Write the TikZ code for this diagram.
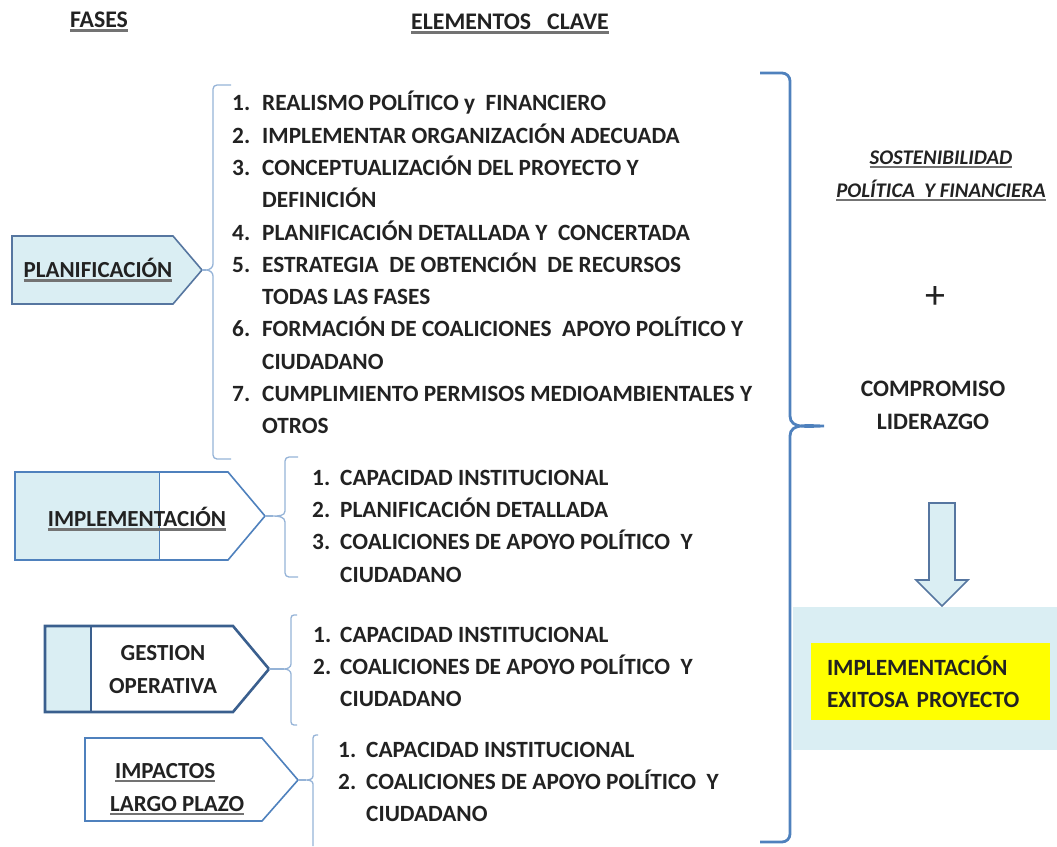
\documentclass[tikz,border=0pt]{standalone}
\usepackage{fontspec}
\setmainfont{Carlito}

\definecolor{paleblue}{HTML}{DAEEF3}
\definecolor{brkblue}{HTML}{95B3D7}
\definecolor{braceblue}{HTML}{4F81BD}
\definecolor{slateblue}{HTML}{5676A0}
\definecolor{darkblue}{HTML}{3A5F8E}
\definecolor{inkgray}{HTML}{222222}
\definecolor{hiyellow}{HTML}{FFFF00}

\newcommand{\ulbar}[1]{\setbox0=\hbox{#1}\rlap{\textcolor{black!55}{\rule[-4pt]{\wd0}{2.4pt}}}\box0}

\begin{document}
\begin{tikzpicture}[x=1pt, y=-1pt,
  phase/.style={line width=1.6pt, line join=miter},
  phaselabel/.style={inner sep=0pt, text=inkgray, align=center,
                     font=\fontsize{23}{33}\selectfont\bfseries},
  keylist/.style={anchor=north west, inner sep=0pt, text=inkgray,
                  font=\fontsize{23.3}{32.3}\selectfont\bfseries},
  brk/.style={brkblue, line width=1.3pt},
  bigbrace/.style={braceblue, line width=2.8pt},
  heading/.style={text=inkgray, font=\fontsize{23.8}{26}\selectfont\bfseries},
  sidetext/.style={text=inkgray, align=center, font=\fontsize{23.6}{33}\selectfont\bfseries},
  resultbox/.style={fill=hiyellow, text=inkgray, align=left, text width=207pt,
                    inner xsep=16pt, minimum height=77pt,
                    font=\fontsize{23.3}{32}\selectfont\bfseries},
  blockarrow/.style={draw=slateblue, fill=paleblue, line width=1.6pt, line join=miter},
]
  \useasboundingbox (0,0) rectangle (1057,846);

  % Headings
  \node[heading] (fases) at (99,22) {\ulbar{FASES}};
  \node[heading] (claves) at (510,24) {\ulbar{ELEMENTOS~~~CLAVE}};

  % Phases
  \draw[phase, draw=slateblue, fill=paleblue] (12,236) -- (173,236) -- (202,270) coordinate (planTip)
    -- (173,304) -- (12,304) -- cycle;
  \node[phaselabel] (plan) at (98,270) {\ulbar{PLANIFICACIÓN}};

  \fill[white] (15,472) -- (228,472) -- (265,516) -- (228,560) -- (15,560) -- cycle;
  \fill[paleblue] (15,472) rectangle (159,560);
  \draw[braceblue, line width=0.8pt] (159,472) -- (159,560);
  \draw[phase, draw=braceblue] (15,472) -- (228,472) -- (265,516) coordinate (implTip)
    -- (228,560) -- (15,560) -- cycle;
  \node[phaselabel] (impl) at (137,519) {\ulbar{IMPLEMENTACIÓN}};

  \fill[white] (45,626) -- (233,626) -- (269,669) -- (233,712) -- (45,712) -- cycle;
  \fill[paleblue] (45,626) rectangle (91,712);
  \draw[darkblue, line width=2.4pt] (91,626) -- (91,712);
  \draw[phase, draw=darkblue, line width=2.6pt] (45,626) -- (233,626) -- (269,669) coordinate (gestTip)
    -- (233,712) -- (45,712) -- cycle;
  \node[phaselabel] (gest) at (163,670) {GESTION\\OPERATIVA};

  \draw[phase, draw=braceblue, fill=white] (85,738) -- (262,738) -- (298,780) coordinate (impaTip)
    -- (262,821) -- (85,821) -- cycle;
  \node[phaselabel, align=left, anchor=west] (impa) at (110,789)
    {\hspace{5pt}\ulbar{IMPACTOS}\\\ulbar{LARGO PLAZO}};

  % Brackets
  \draw[brk] (231,85) -- (217,85) to[out=180,in=90] (213,89) -- (213,264)
    to[out=270,in=0] (206,270) coordinate (tipA) to[out=0,in=90] (213,276) -- (213,455)
    to[out=270,in=180] (217,459) -- (231,459);
  \draw[brk] (298,457) -- (289,457) to[out=180,in=90] (285,461) -- (285,511)
    to[out=270,in=0] (273,516) coordinate (tipB) to[out=0,in=90] (285,522) -- (285,573)
    to[out=270,in=180] (289,577) -- (298,577);
  \draw[brk] (297,615) -- (294,615) to[out=180,in=90] (291,618) -- (291,664)
    to[out=270,in=0] (284,669) coordinate (tipC) to[out=0,in=90] (291,674) -- (291,722)
    to[out=270,in=180] (294,725) -- (297,725);
  \draw[brk] (318,735) -- (316,735) to[out=180,in=90] (313,738) -- (313,776)
    to[out=270,in=0] (306,780) coordinate (tipD) to[out=0,in=90] (313,784) -- (313,846);
  \draw[brk] (planTip) -- (tipA);
  \draw[brk] (implTip) -- (tipB);
  \draw[brk] (gestTip) -- (tipC);
  \draw[brk] (impaTip) -- (tipD);

  % Key elements
  \node[keylist] (lst1) at (232,88) {\begin{tabular}{@{}p{30pt}@{}l@{}}
    1. & REALISMO POLÍTICO y~~FINANCIERO\\
    2. & IMPLEMENTAR ORGANIZACIÓN ADECUADA\\
    3. & CONCEPTUALIZACIÓN DEL PROYECTO Y\\
       & DEFINICIÓN\\
    4. & PLANIFICACIÓN DETALLADA Y~~CONCERTADA\\
    5. & ESTRATEGIA~~DE OBTENCIÓN~~DE RECURSOS\\
       & TODAS LAS FASES\\
    6. & FORMACIÓN DE COALICIONES~~APOYO POLÍTICO Y\\
       & CIUDADANO\\
    7. & CUMPLIMIENTO PERMISOS MEDIOAMBIENTALES Y\\
       & OTROS
  \end{tabular}};
  \node[keylist] (lst2) at (312,462.5) {\begin{tabular}{@{}p{28pt}@{}l@{}}
    1. & CAPACIDAD INSTITUCIONAL\\
    2. & PLANIFICACIÓN DETALLADA\\
    3. & COALICIONES DE APOYO POLÍTICO~~Y\\
       & CIUDADANO
  \end{tabular}};
  \node[keylist] (lst3) at (313,619.5) {\begin{tabular}{@{}p{27pt}@{}l@{}}
    1. & CAPACIDAD INSTITUCIONAL\\
    2. & COALICIONES DE APOYO POLÍTICO~~Y\\
       & CIUDADANO
  \end{tabular}};
  \node[keylist] (lst4) at (338,734.5) {\begin{tabular}{@{}p{28pt}@{}l@{}}
    1. & CAPACIDAD INSTITUCIONAL\\
    2. & COALICIONES DE APOYO POLÍTICO~~Y\\
       & CIUDADANO
  \end{tabular}};

  % Big brace
  \draw[bigbrace] (760,73) -- (782,73) to[out=0,in=90] (790,81) -- (790,416)
    to[out=270,in=180] (824,426) coordinate (tipR) to[out=180,in=90] (790,436) -- (790,834)
    to[out=270,in=0] (782,842) -- (760,842);

  % Right side
  \node[sidetext, font=\fontsize{20.8}{33}\selectfont\bfseries\itshape] (sost) at (941,176)
    {\ulbar{SOSTENIBILIDAD}\\\ulbar{POLÍTICA~~Y FINANCIERA}};
  \node[text=inkgray, font=\fontsize{40}{40}\selectfont] (plus) at (935,297) {+};
  \node[sidetext] (comp) at (933,405) {COMPROMISO\\LIDERAZGO};
  \draw[blockarrow] (929,503) -- (955,503) -- (955,580) -- (968,580) -- (942,606)
    -- (916,580) -- (929,580) -- cycle;
  \fill[paleblue] (793,607) rectangle (1057,750);
  \node[resultbox] (exito) at (930.5,681.5) {IMPLEMENTACIÓN\\EXITOSA PROYECTO};
\end{tikzpicture}
\end{document}
